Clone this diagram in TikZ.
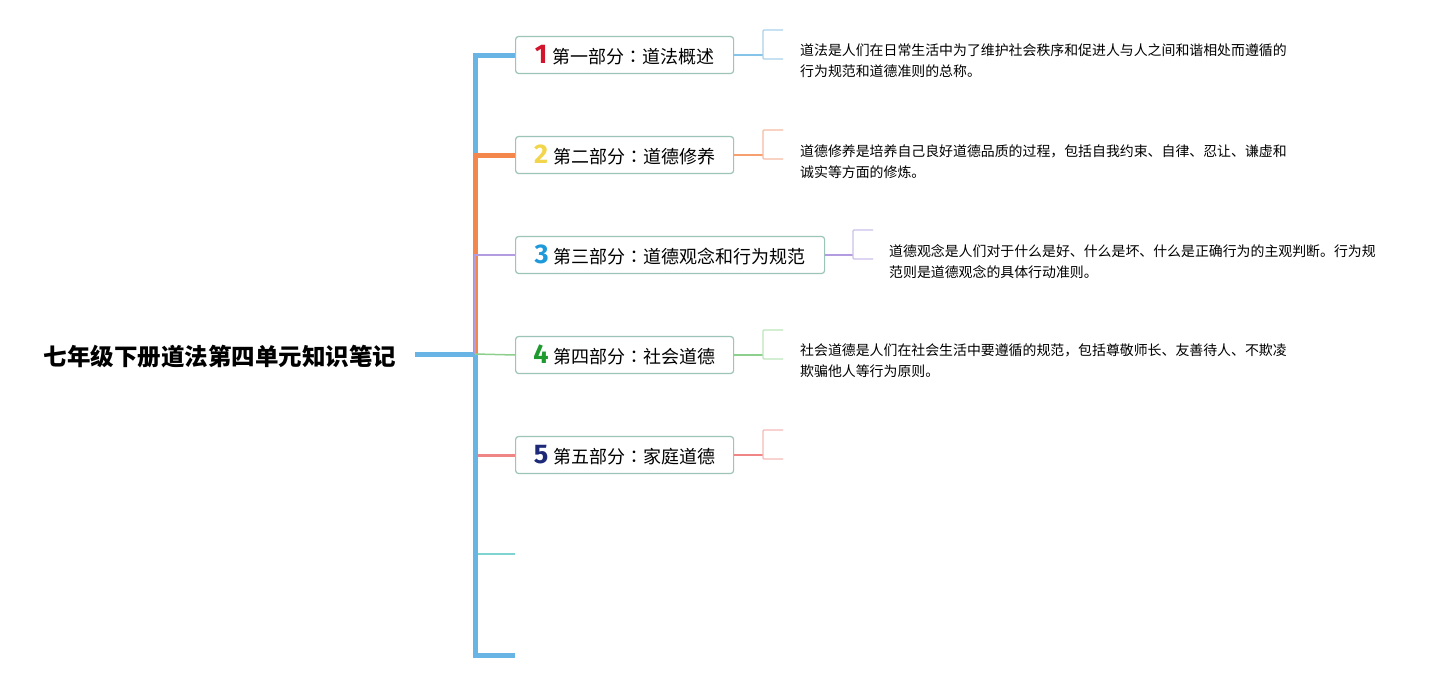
\documentclass[tikz,border=0pt]{standalone}
\usepackage{fontspec}
\setmainfont{Noto Sans CJK SC}
\newfontfamily\numfont{Fira Sans}
\newfontfamily\tcfont{Noto Sans CJK TC}
\definecolor{cblue}{HTML}{68B4E4}
\definecolor{corange}{HTML}{F4874B}
\definecolor{cpurple}{HTML}{B39DE0}
\definecolor{cgreen}{HTML}{8DD08D}
\definecolor{cred}{HTML}{F08585}
\definecolor{cteal}{HTML}{7FD3D0}
\definecolor{bblue}{HTML}{AAD2EC}
\definecolor{borange}{HTML}{F5BCA3}
\definecolor{bpurple}{HTML}{CBBFEA}
\definecolor{bgreen}{HTML}{BEE5BE}
\definecolor{bred}{HTML}{F5B9B9}
\definecolor{boxline}{HTML}{9DC4B8}
\definecolor{n1}{HTML}{D3142D}
\definecolor{n2}{HTML}{F2D54A}
\definecolor{n3}{HTML}{1E9ADA}
\definecolor{n4}{HTML}{1E9A2E}
\definecolor{n5}{HTML}{1C2A78}
\newcommand{\pnum}[2]{\textcolor{#1}{\numfont\fontsize{27}{27}\bfseries\selectfont #2}\hspace{5pt}}
\newcommand{\pcolon}{{\tcfont ：}}
\begin{document}
\begin{tikzpicture}[x=1pt,y=-1pt,
  part/.style={draw=boxline,line width=1.2pt,rounded corners=3pt,fill=white,
    minimum height=37pt,inner xsep=6pt,anchor=west,font=\fontsize{18}{18}\selectfont},
  desc/.style={anchor=north west,align=left,font=\fontsize{13.9}{21}\selectfont,inner sep=0pt},
  brk/.style={line width=1.3pt,rounded corners=1pt}]
\useasboundingbox[fill=white] (0,0) rectangle (1449,680);
% title
\node[font=\fontsize{23.5}{24}\bfseries\selectfont] (title) at (220,357) {七年级下册道法第四单元知识笔记};
\coordinate (r0) at (415,354);
\coordinate (hub) at (475,354);
% parts
\node[part,minimum width=218pt] (p1) at (515,55) {\pnum{n1}{1}第一部分\pcolon 道法概述};
\node[part,minimum width=218pt] (p2) at (515,155) {\pnum{n2}{2}第二部分\pcolon 道德修养};
\node[part,minimum width=309pt] (p3) at (515,255) {\pnum{n3}{3}第三部分\pcolon 道德观念和行为规范};
\node[part,minimum width=218pt] (p4) at (515,355) {\pnum{n4}{4}第四部分\pcolon 社会道德};
\node[part,minimum width=218pt] (p5) at (515,455) {\pnum{n5}{5}第五部分\pcolon 家庭道德};
\coordinate (p6) at (515,554);
\coordinate (p7) at (515,655);
% trunk branches
\draw[cblue,line width=5pt] (r0) -- (hub);
\draw[cblue,line width=5pt] (hub) |- (p1.west);
\draw[cblue,line width=5pt] (hub) |- (p7);
\draw[corange,line width=5pt] (hub) |- (p2.west);
\draw[cred,line width=3pt] (hub) |- (p5.west);
\draw[cteal,line width=1.5pt] (hub) |- (p6);
\draw[cblue,line width=5pt] (hub) -- (475,655);
\draw[cpurple,line width=2pt] (hub) |- (p3.west);
\draw[cgreen,line width=1.5pt] (hub) -- (p4.west);
% descriptions
\node[desc] (d1) at (800,44) {道法是人们在日常生活中为了维护社会秩序和促进人与人之间和谐相处而遵循的\\行为规范和道德准则的总称。};
\node[desc] (d2) at (800,144) {道德修养是培养自己良好道德品质的过程，包括自我约束、自律、忍让、谦虚和\\诚实等方面的修炼。};
\node[desc] (d3) at (889,244) {道德观念是人们对于什么是好、什么是坏、什么是正确行为的主观判断。行为规\\范则是道德观念的具体行动准则。};
\node[desc] (d4) at (800,344) {社会道德是人们在社会生活中要遵循的规范，包括尊敬师长、友善待人、不欺凌\\欺骗他人等行为原则。};
% brackets
\coordinate (k1) at (763,55);
\coordinate (k2) at (763,155);
\coordinate (k3) at (853,255);
\coordinate (k4) at (763,355);
\coordinate (k5) at (763,455);
\draw[cblue!80,line width=1.5pt] (p1.east) -- (k1);
\draw[bblue,brk] (k1 |- 0,30) ++(20,0) -- (k1 |- 0,30) -- (k1 |- 0,59) -- ++(20,0);
\draw[corange!80,line width=1.5pt] (p2.east) -- (k2);
\draw[borange,brk] (k2 |- 0,130) ++(20,0) -- (k2 |- 0,130) -- (k2 |- 0,159) -- ++(20,0);
\draw[cpurple,line width=1.5pt] (p3.east) -- (k3);
\draw[bpurple,brk] (k3 |- 0,230) ++(20,0) -- (k3 |- 0,230) -- (k3 |- 0,259) -- ++(20,0);
\draw[cgreen,line width=1.5pt] (p4.east) -- (k4);
\draw[bgreen,brk] (k4 |- 0,330) ++(20,0) -- (k4 |- 0,330) -- (k4 |- 0,359) -- ++(20,0);
\draw[cred,line width=1.5pt] (p5.east) -- (k5);
\draw[bred,brk] (k5 |- 0,430) ++(20,0) -- (k5 |- 0,430) -- (k5 |- 0,459) -- ++(20,0);
\end{tikzpicture}
\end{document}
